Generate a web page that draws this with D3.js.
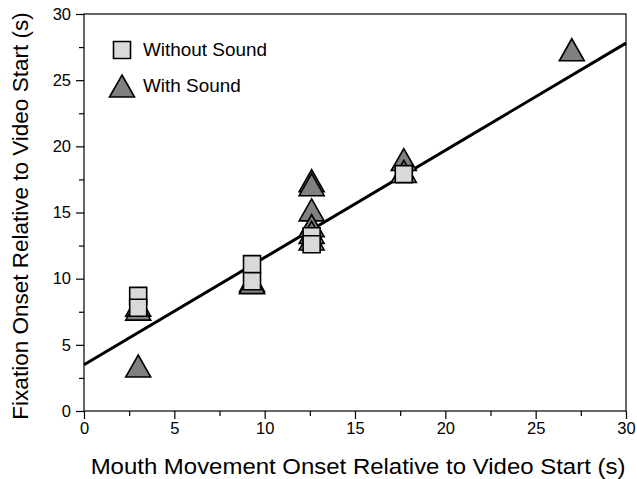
<!DOCTYPE html>
<html>
<head>
<meta charset="utf-8">
<script src="https://cdn.jsdelivr.net/npm/d3@7"></script>
<style>
  body { margin: 0; background: #fff; }
  svg { display: block; }
  text { font-family: "Liberation Sans", Arial, Helvetica, sans-serif; fill: #000; }
</style>
</head>
<body>
<svg id="chart" width="637" height="479"></svg>
<script>
// Tick values
const xTicks = [0, 5, 10, 15, 20, 25, 30];
const yTicks = [0, 5, 10, 15, 20, 25, 30];
const xMinor = [2.5, 7.5, 12.5, 17.5, 22.5, 27.5];
const yMinor = [2.5, 7.5, 12.5, 17.5, 22.5, 27.5];

// Without Sound (squares)
const withoutX = [3.0, 3.0, 9.3, 9.3, 12.6, 12.6, 17.7];
const withoutY = [8.7, 7.8, 11.1, 9.8, 13.2, 12.6, 17.9];

// With Sound (triangles)
const withX = [3.0, 3.0, 3.0, 9.3, 9.3, 12.6, 12.6, 12.6, 12.6, 12.6, 12.6, 17.7, 17.7, 27.0];
const withY = [8.0, 7.7, 3.4, 9.85, 9.7, 17.4, 17.1, 15.2, 14.0, 13.5, 13.0, 19.0, 18.1, 27.3];

// Regression line endpoints
const fitX = [0, 30];
const fitY = [3.5, 27.8];

const legendLabels = ["Without Sound", "With Sound"];

const W = 637, H = 479;
const margin = { top: 14, right: 11, bottom: 68, left: 84 };
const svg = d3.select("#chart");

const x = d3.scaleLinear().domain([0, 30]).range([margin.left, W - margin.right]);
const y = d3.scaleLinear().domain([0, 30]).range([H - margin.bottom, margin.top]);

const squareFill = "#d9d9d9";
const triFill = "#808080";

// Custom marker shapes
const squareSym = { draw(ctx, size) { const s = Math.sqrt(size) / 2; ctx.moveTo(-s, -s); ctx.lineTo(s, -s); ctx.lineTo(s, s); ctx.lineTo(-s, s); ctx.closePath(); } };
const triSym = { draw(ctx, size) { const w = Math.sqrt(size) / 2, h = w * 0.88; ctx.moveTo(0, -h); ctx.lineTo(w, h); ctx.lineTo(-w, h); ctx.closePath(); } };
const squarePath = d3.symbol().type(squareSym).size(17 * 17)();
const triPath = d3.symbol().type(triSym).size(25 * 25)();

// Frame
svg.append("rect")
  .attr("x", x(0)).attr("y", y(30))
  .attr("width", x(30) - x(0)).attr("height", y(0) - y(30))
  .attr("fill", "none").attr("stroke", "#000").attr("stroke-width", 1.2);

// Axes
const xAxis = svg.append("g").attr("transform", `translate(0,${y(0)})`)
  .call(d3.axisBottom(x).tickValues(xTicks).tickSize(8).tickPadding(3).tickFormat(d3.format("d")));
const yAxis = svg.append("g").attr("transform", `translate(${x(0)},0)`)
  .call(d3.axisLeft(y).tickValues(yTicks).tickSize(8).tickPadding(5).tickFormat(d3.format("d")));
[xAxis, yAxis].forEach(g => {
  g.select(".domain").remove();
  g.selectAll("line").attr("stroke", "#000").attr("stroke-width", 1.2);
  g.selectAll("text").attr("font-size", 16.5).attr("font-family", "'Liberation Sans', Arial, sans-serif").attr("fill", "#000");
});
svg.append("g").attr("transform", `translate(0,${y(0)})`)
  .call(d3.axisBottom(x).tickValues(xMinor).tickSize(5).tickFormat(""))
  .call(g => { g.select(".domain").remove(); g.selectAll("line").attr("stroke", "#000").attr("stroke-width", 1.2); });
svg.append("g").attr("transform", `translate(${x(0)},0)`)
  .call(d3.axisLeft(y).tickValues(yMinor).tickSize(5).tickFormat(""))
  .call(g => { g.select(".domain").remove(); g.selectAll("line").attr("stroke", "#000").attr("stroke-width", 1.2); });

// Axis titles
svg.append("text")
  .attr("transform", `translate(358,${H - 5}) scale(1.065,1)`)
  .attr("text-anchor", "middle").attr("font-size", 22.5)
  .text("Mouth Movement Onset Relative to Video Start (s)");
svg.append("text")
  .attr("transform", `translate(28,216) rotate(-90)`)
  .attr("text-anchor", "middle").attr("font-size", 22.5)
  .text("Fixation Onset Relative to Video Start (s)");

// Regression line
const line = d3.line().x((d, i) => x(fitX[i])).y((d, i) => y(fitY[i]));
svg.append("path").datum(fitX).attr("d", line)
  .attr("fill", "none").attr("stroke", "#000").attr("stroke-width", 3);

// Markers: triangles under squares
svg.append("g").selectAll("path").data(withX).join("path")
  .attr("d", triPath)
  .attr("transform", (d, i) => `translate(${x(d)},${y(withY[i])})`)
  .attr("fill", triFill).attr("stroke", "#000").attr("stroke-width", 1.6);
svg.append("g").selectAll("path").data(withoutX).join("path")
  .attr("d", squarePath)
  .attr("transform", (d, i) => `translate(${x(d)},${y(withoutY[i])})`)
  .attr("fill", squareFill).attr("stroke", "#000").attr("stroke-width", 1.6);

// Legend
const legend = svg.append("g");
const legItems = [
  { label: legendLabels[0], path: squarePath, fill: squareFill, cy: 50 },
  { label: legendLabels[1], path: triPath, fill: triFill, cy: 86 }
];
legItems.forEach(it => {
  legend.append("path").attr("d", it.path)
    .attr("transform", `translate(122,${it.cy})`)
    .attr("fill", it.fill).attr("stroke", "#000").attr("stroke-width", 1.6);
  legend.append("text")
    .attr("transform", `translate(143,${it.cy + 6}) scale(1.08,1)`)
    .attr("font-size", 17.5).text(it.label);
});
</script>
</body>
</html>
